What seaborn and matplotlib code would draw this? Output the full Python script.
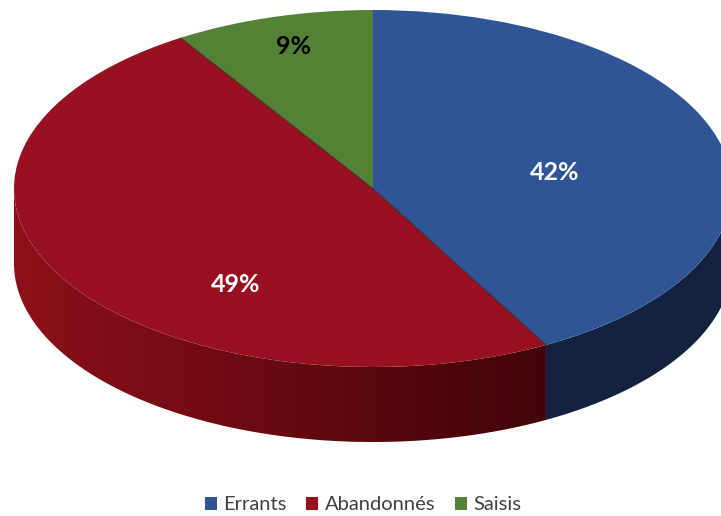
import numpy as np
import matplotlib
matplotlib.use("Agg")
import matplotlib.pyplot as plt
import seaborn as sns
from matplotlib.patches import Polygon, Patch
from matplotlib.colors import to_rgb

sns.set_theme(style="white")
plt.rcParams['font.family'] = ['Lato', 'DejaVu Sans']

# data
categories = ["Errants", "Abandonnés", "Saisis"]
shares = [42, 49, 9]
pct_labels = ["42%", "49%", "9%"]

# styling
top_colors = ["#2F5597", "#971120", "#548235"]
side_left = ["#13223F", "#8E0F19", "#3A5A25"]
side_right = ["#13223F", "#410509", "#3A5A25"]
label_colors = ["white", "white", "black"]
label_px = [(555, 172), (236, 285), (293, 47)]

W, H = 721, 516
cx, cy, a, b, depth = 373, 188.5, 359, 178.5, 75
d = depth / b

fig = plt.figure(figsize=(W / 100, H / 100), dpi=100)
ax = fig.add_axes([0, 0, 1, 1])


def to_uv(px, py):
    return (px - cx) / a, (cy - py) / b


# wedge angles (clockwise from 12 o'clock)
fracs = np.array(shares) / sum(shares)
starts = 90 - 360 * np.concatenate([[0], np.cumsum(fracs)[:-1]])
ends = starts - 360 * fracs

# side walls (front half only) with a left-to-right shading gradient
for i in range(len(shares)):
    lo, hi = ends[i], starts[i]
    c0, c1 = np.array(to_rgb(side_left[i])), np.array(to_rgb(side_right[i]))
    for k in (-1, 0, 1):
        f_lo, f_hi = max(lo, -180 + 360 * k), min(hi, 360 * k)
        if f_hi <= f_lo:
            continue
        th = np.radians(np.linspace(f_lo, f_hi, 400))
        xs, ys = np.cos(th), np.sin(th)
        pts = np.vstack([np.column_stack([xs, ys]),
                         np.column_stack([xs[::-1], ys[::-1] - d])])
        poly = Polygon(pts, closed=True, facecolor="none", edgecolor="none")
        ax.add_patch(poly)
        xmin, xmax = xs.min(), xs.max()
        n = 300
        fr = np.linspace(0, 1, n)[:, None]
        grad = (c0 + (c1 - c0) * fr)[None, :, :]
        im = ax.imshow(grad, extent=(xmin, xmax, -1 - d, 0.05), aspect="auto",
                       interpolation="bilinear", zorder=1)
        im.set_clip_path(poly)

# top face
wedges, texts, autotexts = ax.pie(
    shares, colors=top_colors, startangle=90, counterclock=False,
    autopct=lambda p: f"{p:.0f}%", radius=1, frame=True,
    wedgeprops=dict(linewidth=0),
)
for w in wedges:
    w.set_zorder(2)

# thin separators between wedges
for ang in starts[1:]:
    t = np.radians(ang)
    ax.plot([0, np.cos(t)], [0, np.sin(t)], color="#1a1a1a", lw=0.8, alpha=0.6, zorder=3)

for t, lab, col, pos in zip(autotexts, pct_labels, label_colors, label_px):
    t.set_text(lab)
    t.set_position(to_uv(*pos))
    t.set_color(col)
    t.set_fontsize(18)
    t.set_fontweight("bold")
    t.set_zorder(4)

ax.set_aspect("auto")
ax.set_xlim((0 - cx) / a, (W - cx) / a)
ax.set_ylim((cy - H) / b, cy / b)
ax.axis("off")

handles = [Patch(facecolor=c, edgecolor="none") for c in top_colors]
leg = fig.legend(handles, categories, ncol=3, loc="center",
                 bbox_to_anchor=(363 / W, 1 - 505 / H), frameon=False,
                 fontsize=14.5, handlelength=0.6, handleheight=0.6,
                 handletextpad=0.3, columnspacing=1.0)
for txt in leg.get_texts():
    txt.set_color("#404040")

fig.savefig("out.png", dpi=100)
